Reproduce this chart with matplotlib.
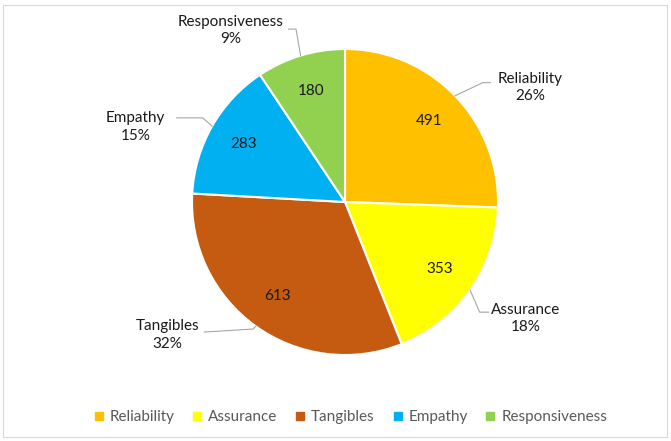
import numpy as np
import matplotlib.pyplot as plt
from matplotlib.patches import Rectangle
from matplotlib.lines import Line2D

plt.rcParams['font.family'] = ['Lato', 'DejaVu Sans']

categories = ["Reliability", "Assurance", "Tangibles", "Empathy", "Responsiveness"]
counts = [491, 353, 613, 283, 180]
colors = ["#FFC000", "#FFFF00", "#C55A11", "#00B0F0", "#92D050"]

# outer label placement (data units, pie radius = 1): text centre, elbow, line end
label_pos = [(1.21, 0.75), (1.18, -0.76), (-1.16, -0.87), (-1.37, 0.49), (-0.75, 1.12)]
elbows = [(0.90, 0.78), (0.88, -0.72), (-0.60, -0.83), (-0.93, 0.55), (-0.32, 1.13)]
ends = [(0.95, 0.78), (0.94, -0.72), (-0.92, -0.85), (-1.10, 0.55), (-0.37, 1.13)]

fig = plt.figure(figsize=(6.71, 4.41), dpi=100)
fig.patches.append(Rectangle((3 / 671, 4 / 441), 664 / 671, 432 / 441,
                             transform=fig.transFigure, fill=False,
                             edgecolor="#d9d9d9", linewidth=0.8))

r = 153
cx, cy = 345, 441 - 202
ax = fig.add_axes([(cx - r) / 671, (cy - r) / 441, 2 * r / 671, 2 * r / 441])

wedges, _ = ax.pie(counts, colors=colors, startangle=90, counterclock=False,
                   wedgeprops=dict(edgecolor="white", linewidth=1.5))
ax.set_xlim(-1, 1)
ax.set_ylim(-1, 1)
ax.set_aspect("auto")

total = sum(counts)
for w, val, name, tp, el, en in zip(wedges, counts, categories, label_pos, elbows, ends):
    mid = np.deg2rad((w.theta1 + w.theta2) / 2)
    d = 0.76
    ax.text(d * np.cos(mid), d * np.sin(mid), str(val), ha="center", va="center",
            fontsize=11, color="#1a1a1a")
    x0, y0 = np.cos(mid), np.sin(mid)
    ax.add_line(Line2D([x0, el[0], en[0]], [y0, el[1], en[1]], color="#a6a6a6",
                       linewidth=0.8, clip_on=False))
    pct = round(val / total * 100)
    ax.text(tp[0], tp[1], f"{name}\n{pct}%", ha="center", va="center",
            fontsize=11, color="#1a1a1a", linespacing=1.3, clip_on=False)

handles = [Line2D([], [], marker="s", linestyle="none", markersize=5.5,
                  markerfacecolor=c, markeredgecolor=c) for c in colors]
fig.legend(handles, categories, loc="center", bbox_to_anchor=(0.522, 1 - 417 / 441),
           ncol=5, frameon=False, fontsize=11, labelcolor="#595959",
           handletextpad=0.35, columnspacing=1.15, handlelength=0.7)

fig.savefig("out.png", dpi=100)
